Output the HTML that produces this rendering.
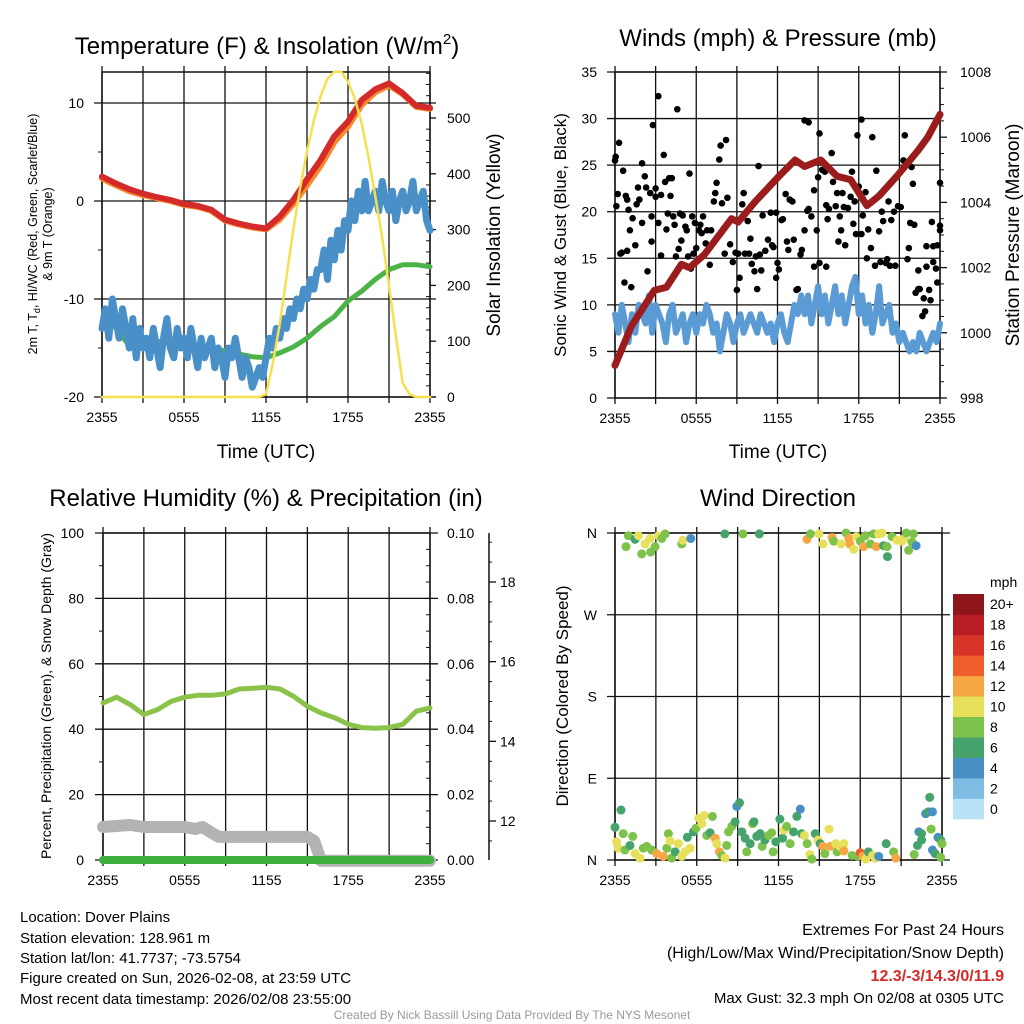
<!DOCTYPE html>
<html><head><meta charset="utf-8"><style>
html,body{margin:0;padding:0;background:#fff}
svg{display:block;font-family:"Liberation Sans",Arial,sans-serif}
</style></head><body>
<svg id="c" width="1024" height="1024" viewBox="0 0 1024 1024">
<rect width="1024" height="1024" fill="#fff"/>
<text x="267" y="54" font-size="24" text-anchor="middle">Temperature (F) &amp; Insolation (W/m<tspan font-size="15" dy="-10">2</tspan><tspan dy="10">)</tspan></text>
<text x="778" y="46" font-size="24" text-anchor="middle">Winds (mph) &amp; Pressure (mb)</text>
<text x="266" y="506" font-size="24" text-anchor="middle">Relative Humidity (%) &amp; Precipitation (in)</text>
<text x="778" y="506" font-size="24" text-anchor="middle">Wind Direction</text>
<text x="266" y="458" font-size="19" text-anchor="middle">Time (UTC)</text>
<text x="778" y="458" font-size="19" text-anchor="middle">Time (UTC)</text>
<g font-size="12.5" text-anchor="middle">
<text transform="translate(37,234) rotate(-90)">2m T, T<tspan font-size="9" dy="3">d</tspan><tspan dy="-3">, HI/WC (Red, Green, Scarlet/Blue)</tspan></text>
<text transform="translate(52,234) rotate(-90)">&amp; 9m T (Orange)</text>
</g>
<text transform="translate(500,235) rotate(-90)" font-size="19" text-anchor="middle">Solar Insolation (Yellow)</text>
<text transform="translate(566,235) rotate(-90)" font-size="17" text-anchor="middle">Sonic Wind &amp; Gust (Blue, Black)</text>
<text transform="translate(1019,235) rotate(-90)" font-size="19" text-anchor="middle">Station Pressure (Maroon)</text>
<text transform="translate(51,696) rotate(-90)" font-size="14" text-anchor="middle">Percent, Precipitation (Green), &amp; Snow Depth (Gray)</text>
<text transform="translate(568,696) rotate(-90)" font-size="17" text-anchor="middle">Direction (Colored By Speed)</text>
<g font-size="15">
<text x="20" y="922">Location: Dover Plains</text>
<text x="20" y="943">Station elevation: 128.961 m</text>
<text x="20" y="963">Station lat/lon: 41.7737; -73.5754</text>
<text x="20" y="983">Figure created on Sun, 2026-02-08, at 23:59 UTC</text>
<text x="20" y="1004">Most recent data timestamp: 2026/02/08 23:55:00</text>
</g>
<g font-size="16" text-anchor="end">
<text x="1004" y="935">Extremes For Past 24 Hours</text>
<text x="1004" y="958">(High/Low/Max Wind/Precipitation/Snow Depth)</text>
<text x="1004" y="981" fill="#d42a2a" font-weight="bold">12.3/-3/14.3/0/11.9</text>
<text x="1004" y="1003" font-size="15">Max Gust: 32.3 mph On 02/08 at 0305 UTC</text>
</g>
<text x="512" y="1019" font-size="12" fill="#999" text-anchor="middle">Created By Nick Bassill Using Data Provided By The NYS Mesonet</text>
<g id="layer"></g>
</svg>
<script>
// ---- Panel 1 data ----
const tempHours = [0,1,2,3,4,5,6,7,8,9,10,11,12,13,14,15,16,17,18,19,20,21,22,23,24];
const tempRed = [2.5,1.8,1.2,0.75,0.4,0.1,-0.3,-0.5,-0.9,-1.9,-2.3,-2.6,-2.8,-1.6,0.1,2.2,4.2,6.6,8.1,10.3,11.4,12.0,11.0,9.7,9.5];
const tempOrange = [2.3,1.6,1.0,0.6,0.3,0.0,-0.4,-0.6,-1.0,-2.0,-2.4,-2.7,-2.9,-1.9,-0.3,1.6,3.6,6.0,7.6,9.8,11.1,11.8,10.9,9.6,9.4];
const tempGreen = [-12.4,-12.9,-14.8,-14.8,-14.3,-14.5,-14.7,-14.9,-15.0,-15.3,-15.6,-15.9,-16.0,-15.5,-14.9,-14.0,-12.8,-11.8,-10.2,-9.2,-8.0,-7.0,-6.5,-6.5,-6.7];
const dewQuarter = [-13,-11,-14,-10,-12,-14,-11,-13, -15,-12,-16,-13,-15,-14,-16,-13, -15,-17,-14,-12,-15,-16,-13,-15, -14,-16,-13,-15,-17,-14,-16,-15, -14,-17,-15,-16,-18,-15,-16,-14, -16,-18,-16,-17,-19,-18,-17,-18, -16,-14,-15,-13,-14,-12,-13,-11, -12,-10,-11,-9,-10,-8,-9,-7, -7,-5,-8,-4,-6,-3,-5,-2, -3,0,-2,1,-1,2,-1,0, 1,-1,2,0,-1,1,-2,0, 1,-1,0,2,-1,0,1,-2,-3];
const solarHalf = [0,0,0,0,0,0,0,0,0,0,0,0,0,0,0,0,0,0,0,0,0,0,0,0,5,60,130,215,300,375,440,495,540,570,583,583,565,535,490,430,360,285,200,110,25,5,0,0,0];
const p1LeftTicks = [10,0,-10,-20];
const p1RightTicks = [0,100,200,300,400,500];
const timeTickLabels = ["2355","0555","1155","1755","2355"];
// ---- Panel 2 data ----
const windQuarter = [9,7,10,8,6,9,7,10, 9,8,11,7,10,9,8,6, 9,10,7,8,9,6,8,9, 7,9,8,10,9,7,8,5, 7,9,8,6,8,9,7,8, 9,8,7,9,8,7,8,6, 8,9,7,6,8,10,9,11, 9,11,8,10,12,9,11,8, 10,12,9,11,8,10,12,13, 9,11,8,10,7,9,12,8, 9,10,7,8,6,7,6,5, 6,5,7,6,5,6,7,6,8];
const pressHours = [0,1.2,2.9,3.8,4.9,5.5,6.6,8.6,9.1,10.3,12.1,13.3,14.0,15.2,16.4,17.4,18.6,19.5,20.8,22.4,23.1,24];
const pressVals = [999.0,1000.2,1001.3,1001.4,1002.1,1002.0,1002.4,1003.5,1003.4,1004.0,1004.8,1005.3,1005.1,1005.3,1004.8,1004.7,1003.9,1004.2,1004.8,1005.6,1006.0,1006.7];
const gustHours = [0.0,0.05,0.3,0.2,0.1,0.6,0.8,0.9,1.0,1.1,1.3,0.4,0.5,0.9,0.7,1.2,1.5,1.6,1.7,1.8,2.0,2.0,2.2,2.3,2.4,2.6,2.7,2.7,2.8,3.0,3.0,3.2,3.2,3.4,3.4,3.6,3.7,3.8,3.9,4.0,4.1,4.2,4.3,4.4,4.5,4.6,4.7,4.8,4.9,5.0,5.2,5.3,5.4,5.5,5.6,5.7,5.8,5.9,6.0,6.2,6.3,6.4,6.5,6.7,6.8,7.0,7.1,7.3,7.4,7.5,7.7,7.8,7.9,8.1,8.2,8.3,8.5,8.7,8.9,9.0,9.1,9.2,9.4,9.5,9.6,9.8,9.9,10.0,10.1,10.3,10.4,10.5,10.6,10.7,10.8,10.9,11.1,11.3,11.5,11.6,11.7,11.9,12.0,11.9,12.1,12.3,12.4,12.6,12.7,12.8,12.9,13.1,13.2,13.4,13.5,13.7,13.8,14.0,14.0,14.3,14.2,14.3,14.5,14.7,14.7,14.9,15.1,15.0,15.1,15.3,15.5,15.6,15.6,15.7,15.8,16.0,16.1,16.3,16.4,16.5,16.6,16.7,16.8,16.9,17.0,17.2,17.4,17.5,17.6,17.7,17.8,17.9,18.0,18.2,18.2,18.3,18.5,18.6,18.7,18.9,19.0,19.2,19.3,19.5,19.6,19.7,19.8,20.0,20.1,20.2,20.3,20.4,20.6,20.7,20.9,21.1,21.3,21.4,21.6,21.7,21.8,21.9,22.0,22.1,22.2,22.4,22.4,22.5,22.7,22.8,22.9,23.0,23.0,23.2,23.3,23.4,23.5,23.5,23.7,23.8,23.8,24.0,24.0,24.0];
const gustVals = [25.5,25.9,27.4,21.9,20.6,24.4,21.7,21.3,20.2,18.0,19.3,15.5,15.6,15.8,12.4,11.9,16.4,20.8,22.6,21.3,25.2,18.8,23.8,22.6,13.6,22.0,19.5,16.8,29.3,21.6,22.5,32.4,18.8,15.3,21.8,26.1,23.2,18.1,19.8,23.6,21.7,23.6,19.5,18.6,15.2,31.0,16.0,19.8,16.9,19.6,18.4,18.0,15.2,24.1,13.9,19.5,15.5,18.8,16.1,18.0,18.6,17.7,19.5,16.6,18.0,14.3,18.0,21.1,22.0,23.1,25.6,27.1,20.9,15.5,27.7,21.5,16.5,14.6,15.6,11.6,15.5,12.9,20.8,22.0,15.5,19.0,15.5,17.1,14.4,13.6,15.2,11.7,24.9,15.4,13.7,19.6,15.8,17.0,19.9,16.4,16.2,19.9,14.5,12.9,13.8,19.1,19.2,21.9,16.8,15.9,21.3,21.1,17.0,11.6,11.7,15.4,15.9,18.0,29.8,29.6,20.1,20.3,19.5,22.3,14.1,18.0,28.4,23.7,14.5,24.5,24.3,14.1,20.7,19.2,20.3,26.3,23.2,20.6,22.0,16.8,19.5,18.0,22.0,20.5,16.4,20.4,21.6,24.3,18.7,21.1,17.6,28.2,22.7,29.9,17.6,19.6,22.1,15.0,18.1,16.1,28.0,14.2,24.4,17.9,14.6,20.0,19.0,14.5,14.9,21.1,14.2,19.1,20.0,14.2,20.6,20.5,25.5,28.2,14.9,16.1,18.8,24.8,23.0,18.6,11.3,13.7,11.7,11.7,8.8,10.7,9.3,16.3,14.1,11.6,10.5,18.9,16.3,14.6,13.9,12.4,16.4,23.1,18.5,18.0];
const p2LeftTicks = [0,5,10,15,20,25,30,35];
const p2RightTicks = [998,1000,1002,1004,1006,1008];
// ---- Panel 3 data ----
const rhHours = [0,1,2,3,4,5,6,7,8,9,10,11,12,13,14,15,16,17,18,19,20,21,22,23,24];
const rhVals = [48,49.8,47.5,44.5,46,48.5,49.8,50.4,50.4,50.8,52.3,52.5,52.8,52.3,50,47,45,43.5,41.5,40.5,40.3,40.5,41.5,45.5,46.5];
const snowHours = [0,2,3,6,6.8,7.3,8,8.5,15,15.5,16,24];
const snowVals = [11.85,11.9,11.85,11.85,11.8,11.85,11.7,11.6,11.6,11.5,11.0,11.0];
const precipHours = [0,24];
const precipVals = [0,0];
const p3LeftTicks = [0,20,40,60,80,100];
const p3RightTicks = ["0.00","0.02","0.04","0.06","0.08","0.10"];
const snowTicks = [12,14,16,18];
// ---- Panel 4 data ----
const dirHours = [0.98,1.47,1.72,2.21,2.57,0.81,1.96,2.62,2.94,3.19,3.68,3.43,4.9,4.98,5.56,8.06,9.39,10.59,14.09,14.34,14.97,15.27,15.93,16.05,16.59,16.96,17.16,17.23,17.52,17.71,18.01,18.25,18.37,18.74,18.98,19.18,19.35,19.6,19.71,20.0,19.96,20.33,20.69,21.06,21.23,21.38,21.55,21.8,21.9,22.1,
0,0.44,0.12,0.24,0.61,0.73,1.3,1.1,1.47,1.84,2.08,2.33,2.69,3.06,3.55,3.8,3.92,4.04,4.16,4.41,4.65,4.9,5.14,5.31,5.51,5.76,5.95,6.15,6.37,6.54,6.73,6.98,7.15,7.35,7.47,7.66,7.84,8.08,8.2,8.33,8.57,8.82,8.94,9.14,9.31,9.55,9.67,9.92,10.1,10.2,10.4,10.65,10.8,11.0,11.27,11.5,11.6,11.8,12.1,12.3,12.4,12.6,12.85,13.1,13.35,13.6,13.7,13.9,14.1,14.3,14.45,14.7,14.9,15.06,15.26,15.4,15.7,15.8,16.2,16.3,16.5,16.8,16.8,17.4,17.8,18.0,18.2,18.4,18.6,18.9,19.1,19.35,19.9,20.45,20.6,21.96,22.2,22.3,22.5,22.5,22.8,23.0,23.1,23.3,23.2,23.3,23.5,23.7,23.9,24.0,23.9];
const dirDeg = [357,353,357,348,354,345,337,339,345,357,359,354,348,352,354,359,359,359,353,359,359,348,355,351,348,360,354,348,342,356,351,345,357,348,359,345,359,360,346,334,345,356,352,351,354,360,341,350,359,346,
36,55,20,13,29,11,26,16,7,2,13,15,11,7,4,13,29,21,2,9,18,4,9,25,13,31,35,46,40,49,27,30,48,24,18,9,5,2,16,31,37,42,59,63,31,24,9,18,40,42,26,29,15,22,27,30,9,20,45,24,33,37,18,31,48,56,29,27,18,6,1,29,22,18,15,7,34,15,18,9,15,18,10,5,4,8,4,1,9,5,2,4,18,9,2,6,16,31,29,22,51,53,69,53,34,11,7,25,22,18,3];
const dirSpeed = [8,6,10,10,10,8,8,8,8,10,8,8,8,10,4,6,8,6,12,8,10,10,12,8,10,8,12,12,10,10,8,12,8,8,8,12,10,10,6,6,8,8,10,10,10,8,8,8,8,4,
6,6,10,10,8,8,8,6,10,10,8,8,8,12,12,8,8,10,8,6,10,10,10,6,10,6,8,10,10,10,8,6,8,12,10,12,8,10,8,8,8,6,4,6,6,6,8,6,8,6,6,6,8,6,8,8,8,6,6,6,10,8,8,6,6,4,6,10,8,10,8,6,10,6,12,8,10,12,10,8,10,10,12,8,8,14,12,10,6,10,10,4,6,8,12,8,6,4,6,6,4,6,6,4,8,4,6,4,6,8,8];
const dirLabels = ["N","E","S","W","N"];
const speedBins = ["0","2","4","6","8","10","12","14","16","18","20+"];
const speedColors = ["#b8e3f7","#7fbce4","#478fc5","#46a36b","#7dc24b","#e6e05a","#f6a744","#ef5f2b","#d9342a","#b81c24","#8e1519"];

const NS = "http://www.w3.org/2000/svg";
const layer = document.getElementById("layer");
function mk(tag, attrs, parent) {
  const e = document.createElementNS(NS, tag);
  for (const k in attrs) e.setAttribute(k, attrs[k]);
  (parent || layer).appendChild(e);
  return e;
}
function lin(d0, d1, r0, r1) { return v => r0 + (v - d0) * (r1 - r0) / (d1 - d0); }

// Panels geometry
const P = [
  {x0:102, x1:430, y0:72, y1:397},
  {x0:615, x1:940, y0:72, y1:398},
  {x0:103, x1:430, y0:533, y1:860},
  {x0:615, x1:942, y0:533, y1:860}
];
const xs = P.map(p => lin(0, 24, p.x0, p.x1));
const yTemp = lin(0, -20, 201, 397);
const ySolar = lin(0, 500, 397, 118);
const yWind = lin(0, 35, 398, 72);
const yPress = lin(998, 1008, 398, 72);
const yRH = lin(0, 100, 860, 533);
const yPrecip = lin(0, 0.10, 860, 533);
const ySnow = lin(12, 18, 821, 582);
const yDir = lin(0, 360, 860, 533);

function frame(i) {
  const p = P[i];
  const g = mk("g", {});
  
  
  for (let h = 0; h <= 24; h += 3) {
    const x = xs[i](h);
    const l = mk("line", {x1:x, x2:x, y1:p.y0 - 6, y2:p.y1 + 6, stroke:"#111", "stroke-width":1.3}, g);
    
    
  }
  const r = mk("rect", {x:p.x0, y:p.y0, width:p.x1 - p.x0, height:p.y1 - p.y0, fill:"none", stroke:"#111", "stroke-width":1.5}, g);
  
  
  timeTickLabels.forEach((s, k) => {
    const t = mk("text", {x:xs[i](k * 6), y:p.y1 + 25, "font-size":14, "text-anchor":"middle"}, g);
    t.textContent = s;
    
    
  });
  return g;
}
function hline(g, x0, x1, y, w) {
  const l = mk("line", {x1:x0, x2:x1, y1:y, y2:y, stroke:"#111", "stroke-width":w || 1.3}, g);
  
  
}
function label(g, x, y, s, anchor, name) {
  const t = mk("text", {x:x, y:y + 5, "font-size":14, "text-anchor":anchor}, g);
  t.textContent = s;
  
  
}
function path(xsArr, ysArr, fx, fy, attrs, name) {
  let d = "";
  xsArr.forEach((h, k) => { d += (k ? "L" : "M") + fx(h).toFixed(1) + "," + fy(ysArr[k]).toFixed(1); });
  const e = mk("path", Object.assign({d:d, fill:"none", "stroke-linejoin":"round", "stroke-linecap":"round"}, attrs));
  
  
  return e;
}
const quarterHours = dewQuarter.map((_, k) => k * 0.25);
const halfHours = solarHalf.map((_, k) => k * 0.5);

// ---- Panel 1 ----
{
  const g = frame(0), p = P[0];
  p1LeftTicks.forEach(v => { hline(g, p.x0 - 8, p.x1 + 6, yTemp(v)); label(g, 84, yTemp(v), String(v), "end", "temp-tick-label"); });
  for (let v = -15; v <= 10; v += 5) if (v % 10) hline(g, p.x0 - 4, p.x0, yTemp(v), 1);
  p1RightTicks.forEach(v => { hline(g, p.x1, p.x1 + 6, ySolar(v)); label(g, 447, ySolar(v), String(v), "start", "solar-tick-label"); });
  for (let v = 20; v <= 580; v += 20) if (v % 100) hline(g, p.x1 - 4, p.x1, ySolar(v), 1);
  path(tempHours, tempGreen, xs[0], yTemp, {stroke:"#4cb447", "stroke-width":5}, "heat-index-windchill-line");
  path(quarterHours, dewQuarter, xs[0], yTemp, {stroke:"#4a90c8", "stroke-width":7}, "dewpoint-line");
  path(tempHours, tempOrange, xs[0], yTemp, {stroke:"#f7892c", "stroke-width":6}, "temp-9m-line");
  path(tempHours, tempRed, xs[0], yTemp, {stroke:"#d42a2a", "stroke-width":6}, "temp-2m-line");
  path(halfHours, solarHalf, xs[0], ySolar, {stroke:"#f5e050", "stroke-width":2.5}, "solar-insolation-line");
}
// ---- Panel 2 ----
{
  const g = frame(1), p = P[1];
  p2LeftTicks.forEach(v => { hline(g, p.x0 - 8, p.x1, yWind(v)); label(g, 597, yWind(v), String(v), "end", "wind-tick-label"); });
  p2RightTicks.forEach(v => { hline(g, p.x1, p.x1 + 7, yPress(v)); label(g, 960, yPress(v), String(v), "start", "pressure-tick-label"); });
  for (let v = 998.5; v < 1008; v += 0.5) if (v % 2) hline(g, p.x1, p.x1 + 4, yPress(v), 1);
  path(quarterHours, windQuarter, xs[1], yWind, {stroke:"#5b9bd5", "stroke-width":6}, "sonic-wind-line");
  gustHours.forEach((h, k) => {
    const c = mk("circle", {cx:xs[1](h), cy:yWind(gustVals[k]), r:3.3, fill:"#000"});
    
    
  });
  path(pressHours, pressVals, xs[1], yPress, {stroke:"#9b1c1c", "stroke-width":7}, "pressure-line");
}
// ---- Panel 3 ----
{
  const g = frame(2), p = P[2];
  p3LeftTicks.forEach(v => { hline(g, p.x0 - 8, p.x1 + 8, yRH(v)); label(g, 84, yRH(v), String(v), "end", "percent-tick-label"); });
  for (let v = 10; v < 100; v += 20) hline(g, p.x0 - 4, p.x0, yRH(v), 1);
  p3RightTicks.forEach((s, k) => label(g, 447, yPrecip(k * 0.02), s, "start", "precip-tick-label"));
  for (let v = 0.005; v < 0.1; v += 0.005) hline(g, p.x1 - 4, p.x1, yPrecip(v), 1);
  const ax = mk("line", {x1:489, x2:489, y1:533, y2:860, stroke:"#111", "stroke-width":1.5}, g);
  
  
  snowTicks.forEach(v => { hline(g, 489, 496, ySnow(v)); label(g, 500, ySnow(v), String(v), "start", "snow-tick-label"); });
  for (let v = 11.5; v <= 19; v += 0.5) if (v % 2) hline(g, 489, 492, ySnow(v), 1);
  path(rhHours, rhVals, xs[2], yRH, {stroke:"#8bc34a", "stroke-width":5}, "relative-humidity-line");
  path(snowHours, snowVals, xs[2], ySnow, {stroke:"#b3b3b3", "stroke-width":12}, "snow-depth-line");
  path(precipHours, precipVals, xs[2], yPrecip, {stroke:"#3db03d", "stroke-width":8}, "precipitation-line");
}
// ---- Panel 4 ----
{
  const g = frame(3), p = P[3];
  dirLabels.forEach((s, k) => { hline(g, p.x0 - 8, p.x1 + 8, yDir(k * 90)); label(g, 597, yDir(k * 90), s, "end", "direction-tick-label"); });
  dirHours.forEach((h, k) => {
    const c = mk("circle", {cx:xs[3](h), cy:yDir(dirDeg[k]), r:4.5, fill:speedColors[Math.min(10, Math.round(dirSpeed[k] / 2))]});
    
    
  });
  const cb = mk("g", {});
  
  
  const bh = 225 / speedBins.length;
  speedBins.forEach((s, k) => {
    const y = 819 - (k + 1) * bh;
    const r = mk("rect", {x:953, y:y, width:31, height:bh + 0.3, fill:speedColors[k]}, cb);
    
    
    const t = mk("text", {x:990, y:y + bh / 2 + 5, "font-size":14}, cb);
    t.textContent = s;
    
    
  });
  const u = mk("text", {x:990, y:587, "font-size":14}, cb);
  u.textContent = "mph";
  
  
}
</script>
</body></html>
